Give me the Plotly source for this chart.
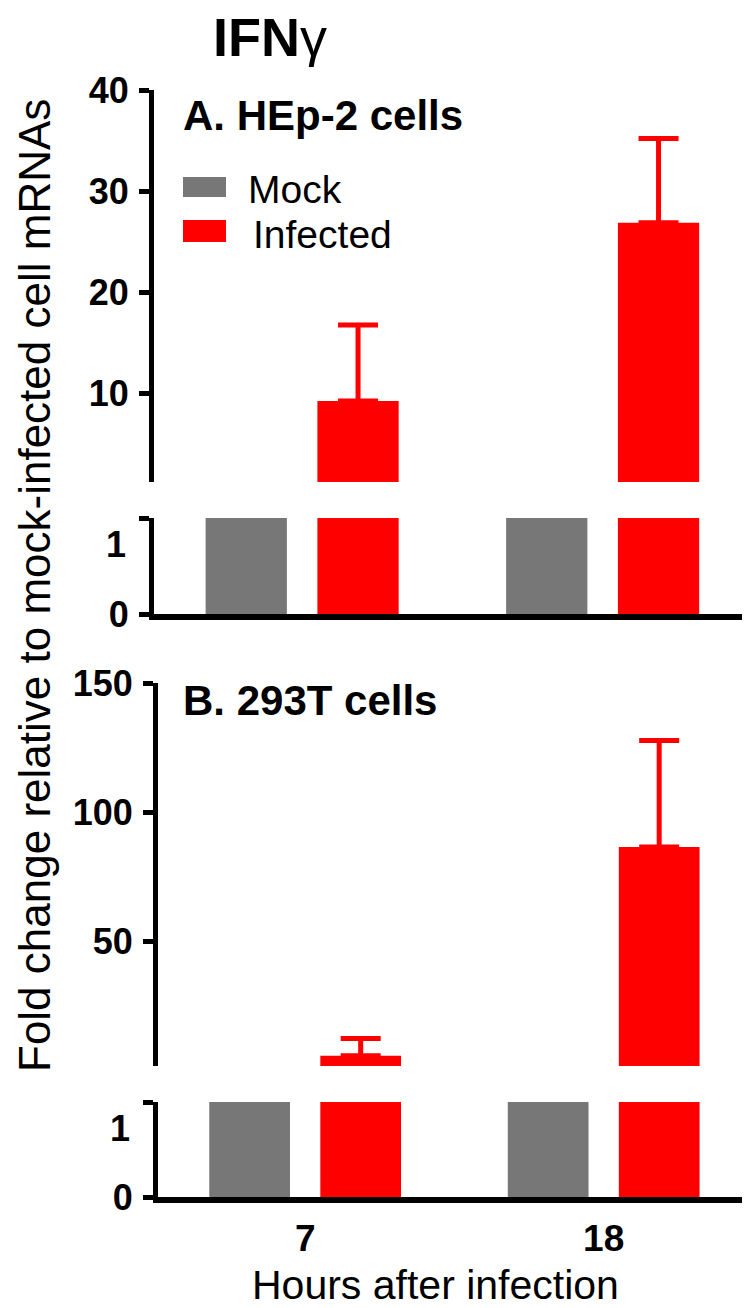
import plotly.graph_objects as go

# hours after infection (categories)
hours = ["7", "18"]

# panel A: HEp-2 cells, fold change
hep2_mock = [1, 1]
hep2_infected = [9.3, 26.9]
hep2_infected_err = [7.5, 8.3]

# panel B: 293T cells, fold change
t293_mock = [1, 1]
t293_infected = [6.0, 86.6]
t293_infected_err = [6.6, 41.2]

# tick values of the upper (broken) segments
hep2_ticks = [10, 20, 30, 40]
t293_ticks = [50, 100, 150]

GRAY = "#777777"
RED = "#ff0000"
FONT = "Liberation Sans, Arial, sans-serif"
W, H = 750, 1308
PAGE_OFFSET = 8  # the page body puts the figure 8px in from the window corner


def py(p):
    # pixel row on the page -> paper coordinate
    return 1 - (p - PAGE_OFFSET) / H


def px(p):
    return (p - PAGE_OFFSET) / W


fig = go.Figure()

# each panel has an upper segment and a lower (0-1) segment of the broken y axis
panels = [
    ("x", "y", "y2", hep2_mock, hep2_infected, hep2_infected_err),
    ("x2", "y3", "y4", t293_mock, t293_infected, t293_infected_err),
]
for xa, y_up, y_low, mock, inf, err in panels:
    for ya in (y_up, y_low):
        fig.add_trace(go.Bar(x=hours, y=mock, name="Mock", marker_color=GRAY,
                             marker_line_width=0, xaxis=xa, yaxis=ya))
        err_y = None
        if ya == y_up:
            err_y = dict(type="data", symmetric=False, array=err,
                         arrayminus=[0] * len(err), color=RED,
                         thickness=5, width=20)
        fig.add_trace(go.Bar(x=hours, y=inf, name="Infected", marker_color=RED,
                             marker_line_width=0, error_y=err_y,
                             xaxis=xa, yaxis=ya))

tickfont = dict(family=FONT, size=36, color="black", weight="bold")
yaxis_style = dict(showline=True, linewidth=5, linecolor="black", ticks="outside",
                   ticklen=10, tickwidth=5, tickcolor="black", tickfont=tickfont,
                   ticklabelstandoff=3, showgrid=False, zeroline=False)
xaxis_style = dict(type="category", range=[-0.493, 1.517], showline=True,
                   linewidth=6, linecolor="black", ticks="", showgrid=False,
                   zeroline=False)

fig.update_layout(
    width=W, height=H,
    margin=dict(l=0, r=0, t=0, b=0, autoexpand=False),
    plot_bgcolor="white", paper_bgcolor="white",
    barmode="group", bargap=0.256, bargroupgap=0.273,
    showlegend=False,
    title=dict(text="<b>IFN</b>γ", font=dict(family=FONT, size=54, color="black"),
               x=px(270), xanchor="center", y=1, yanchor="top",
               xref="paper", yref="container", pad=dict(t=10)),
    xaxis=dict(domain=[px(154), 1], anchor="y2", showticklabels=False, **xaxis_style),
    xaxis2=dict(domain=[px(158), 1], anchor="y4", showticklabels=True,
                tickfont=dict(family=FONT, size=37, color="black", weight="bold"),
                ticklabelstandoff=4, **xaxis_style),
    yaxis=dict(domain=[py(482), py(90)], range=[1.3, 40], anchor="x",
               tickvals=hep2_ticks, **yaxis_style),
    yaxis2=dict(domain=[py(614), py(518)], range=[0, 1], anchor="x",
                tickvals=[0, 1], ticktext=["0", ""], **yaxis_style),
    yaxis3=dict(domain=[py(1066), py(683)], range=[2, 150], anchor="x2",
                tickvals=t293_ticks, **yaxis_style),
    yaxis4=dict(domain=[py(1197), py(1102)], range=[0, 1], anchor="x2",
                tickvals=[0, 1], ticktext=["0", ""], **yaxis_style),
)

# the "1" of each lower segment sits a little under its tick in the original
for ya, xpix in [("y2", 128), ("y4", 132)]:
    fig.add_annotation(text="<b>1</b>", x=px(xpix), y=1, xref="paper", yref=ya,
                       xanchor="right", yanchor="middle", yshift=-26, showarrow=False,
                       font=dict(family=FONT, size=36, color="black"))

# panel labels
for text, ypix in [("A. HEp-2 cells", 116), ("B. 293T cells", 700)]:
    fig.add_annotation(text="<b>" + text + "</b>", x=px(181), y=py(ypix),
                       xref="paper", yref="paper", xanchor="left", yanchor="middle",
                       showarrow=False, font=dict(family=FONT, size=42, color="black"))

# legend (swatch + text) inside panel A
for name, color, top, bottom, text_x, text_y in [("Mock", GRAY, 177, 197, 246, 189),
                                                 ("Infected", RED, 220, 242, 251, 234)]:
    fig.add_shape(type="rect", xref="paper", yref="paper",
                  x0=px(183), x1=px(226), y0=py(bottom), y1=py(top),
                  fillcolor=color, line_width=0)
    fig.add_annotation(text=name, x=px(text_x), y=py(text_y), xref="paper", yref="paper",
                       xanchor="left", yanchor="middle", showarrow=False,
                       font=dict(family=FONT, size=39, color="black"))

# shared axis titles
fig.add_annotation(text="Fold change relative to mock-infected cell mRNAs",
                   x=px(34), y=py(586), xref="paper", yref="paper", textangle=-90,
                   xanchor="center", yanchor="middle", showarrow=False,
                   font=dict(family=FONT, size=44, color="black"))
fig.add_annotation(text="Hours after infection", x=px(435), y=py(1285),
                   xref="paper", yref="paper", xanchor="center", yanchor="middle",
                   showarrow=False, font=dict(family=FONT, size=41, color="black"))

fig.write_html("out.html")
